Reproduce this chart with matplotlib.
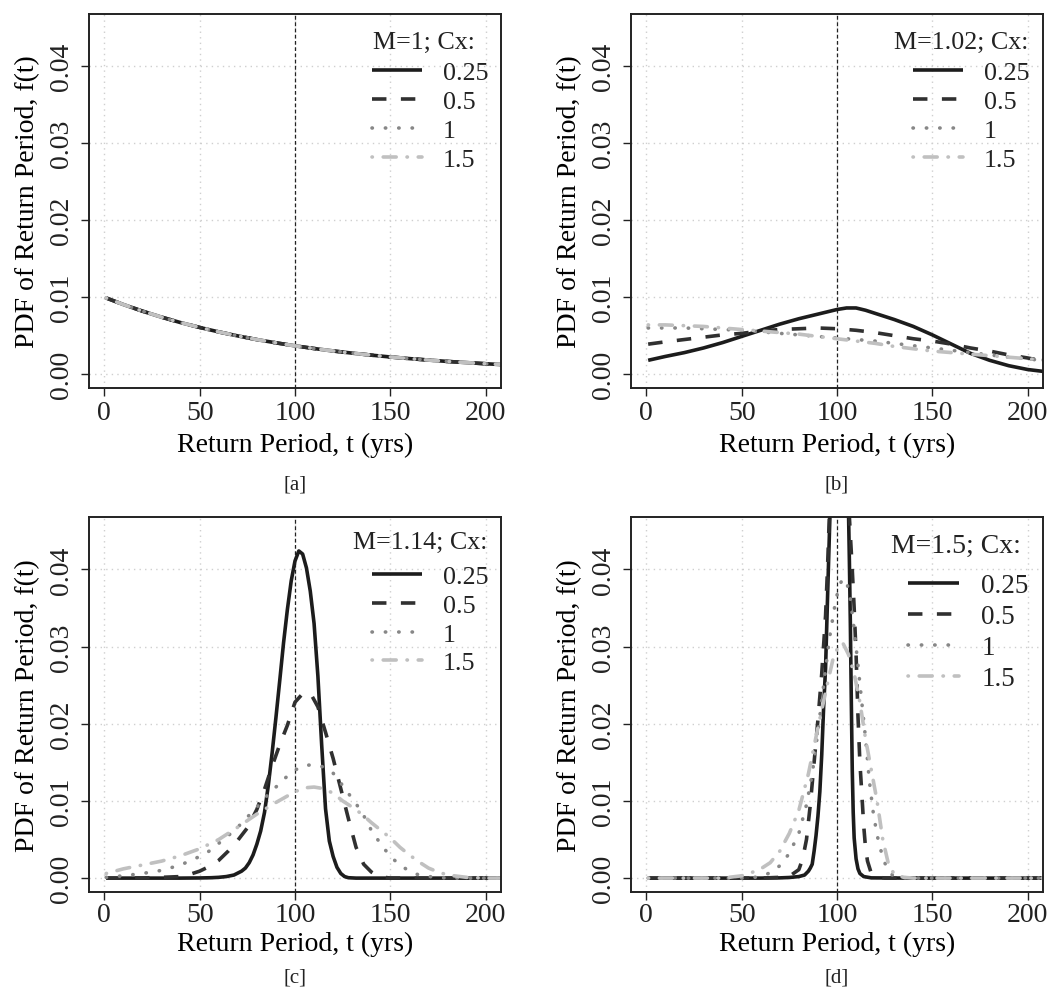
import matplotlib
matplotlib.use("Agg")
import matplotlib.pyplot as plt

plt.rcParams.update(
    {
        "font.family": ["Liberation Serif", "DejaVu Serif"],
        "font.size": 20,
        "text.color": "#222222",
        "axes.edgecolor": "#222222",
        "xtick.color": "#222222",
        "ytick.color": "#222222",
    }
)

CX_LABELS = ["0.25", "0.5", "1", "1.5"]
M_VALUES = ["1", "1.02", "1.14", "1.5"]
PANEL_TAGS = ["[a]", "[b]", "[c]", "[d]"]

# panel a: all four Cx curves coincide
A_T = [1, 10, 20, 30, 40, 50, 60, 70, 80, 90, 100, 110, 120, 130, 140, 150, 160, 170, 180, 190, 200, 210]
A_F = [0.00990, 0.00905, 0.00819, 0.00741, 0.00670, 0.00607, 0.00549, 0.00497, 0.00449, 0.00407, 0.00368,
       0.00333, 0.00301, 0.00273, 0.00247, 0.00223, 0.00202, 0.00183, 0.00165, 0.00150, 0.00135, 0.00122]

# panel b
B_T = [1, 10, 20, 30, 40, 50, 60, 70, 80, 90, 100, 110, 120, 130, 140, 150, 160, 170, 180, 190, 200, 210]
B_025_T = [1, 10, 20, 30, 40, 50, 60, 70, 80, 90, 95, 100, 105, 110, 115, 120, 130, 140, 150, 160,
           170, 180, 190, 200, 210]
B_025 = [0.0018, 0.0023, 0.0028, 0.0034, 0.0041, 0.0049, 0.0057, 0.0065, 0.0072, 0.0078, 0.0081,
         0.0084, 0.0086, 0.0086, 0.0083, 0.0079, 0.0071, 0.0062, 0.0051, 0.0039, 0.0027, 0.0018,
         0.0011, 0.0006, 0.0003]
B_05 = [0.0039, 0.0042, 0.0045, 0.0048, 0.0051, 0.0053, 0.0056, 0.0058, 0.0059, 0.0060, 0.0059,
        0.0057, 0.0054, 0.0050, 0.0046, 0.0043, 0.0039, 0.0034, 0.0030, 0.0025, 0.0021, 0.0016]
B_1 = [0.0060, 0.0060, 0.0060, 0.0059, 0.0058, 0.0057, 0.0055, 0.0053, 0.0051, 0.0049, 0.0047,
       0.0045, 0.0043, 0.0040, 0.0037, 0.0034, 0.0031, 0.0028, 0.0025, 0.0022, 0.0020, 0.0017]
B_15 = [0.0064, 0.0064, 0.0063, 0.0062, 0.0060, 0.0058, 0.0056, 0.0054, 0.0052, 0.0049, 0.0046,
        0.0043, 0.0040, 0.0036, 0.0033, 0.0030, 0.0028, 0.0026, 0.0024, 0.0022, 0.0020, 0.0018]

# panel c
C_025_T = [1, 20, 40, 50, 56, 60, 64, 68, 72, 74, 76, 78, 80, 82, 84, 86, 88, 90, 92, 94, 96, 98, 100,
           102, 104, 106, 108, 110, 112, 114, 116, 118, 120, 122, 124, 126, 128, 132, 150, 180, 210]
C_025 = [0, 0, 0, 0.00002, 0.00005, 0.0001, 0.0002, 0.0004, 0.0009, 0.0013, 0.0020, 0.0030, 0.0044,
         0.0061, 0.0085, 0.0120, 0.0162, 0.0208, 0.0256, 0.0305, 0.0348, 0.0385, 0.0411, 0.0424,
         0.0420, 0.0402, 0.0372, 0.0330, 0.0262, 0.0172, 0.0090, 0.0048, 0.0028, 0.0014, 0.0006,
         0.0002, 0.00005, 0, 0, 0, 0]
C_05_T = [1, 20, 30, 40, 45, 50, 55, 60, 65, 70, 75, 80, 84, 88, 92, 96, 100, 104, 108, 112, 116,
          120, 124, 128, 132, 136, 140, 144, 150, 180, 210]
C_05 = [0, 0.00002, 0.0001, 0.0002, 0.0005, 0.0009, 0.0015, 0.0023, 0.0035, 0.0049, 0.0065, 0.0089,
        0.0115, 0.0145, 0.0173, 0.0198, 0.0228, 0.0239, 0.0240, 0.0222, 0.0189, 0.0155, 0.0116,
        0.0077, 0.0040, 0.0018, 0.0008, 0.0002, 0, 0, 0]
C_1_T = [1, 10, 20, 30, 40, 50, 55, 60, 65, 70, 75, 80, 85, 90, 95, 100, 105, 110, 115, 120, 125,
         130, 135, 140, 145, 150, 155, 160, 165, 170, 180, 210]
C_1 = [0.0001, 0.0003, 0.0006, 0.0010, 0.0017, 0.0028, 0.0035, 0.0045, 0.0055, 0.0066, 0.0079,
       0.0092, 0.0106, 0.0118, 0.0130, 0.0140, 0.0146, 0.0147, 0.0144, 0.0136, 0.0120, 0.0103,
       0.0086, 0.0062, 0.0044, 0.0028, 0.0017, 0.0009, 0.0004, 0.0002, 0, 0]
C_15_T = [1, 10, 20, 30, 40, 50, 60, 70, 80, 90, 100, 105, 110, 115, 120, 125, 130, 135, 140, 145,
          150, 155, 160, 165, 170, 175, 180, 190, 200, 210]
C_15 = [0.0006, 0.0012, 0.0017, 0.0022, 0.0029, 0.0038, 0.0050, 0.0066, 0.0083, 0.0098, 0.0112,
        0.0117, 0.0118, 0.0116, 0.0110, 0.0100, 0.0092, 0.0083, 0.0072, 0.0062, 0.0052, 0.0040,
        0.0030, 0.0021, 0.0013, 0.0008, 0.0004, 0.0001, 0, 0]

# panel d (0.25 and 0.5 run off the top of the axes)
D_025_T = [1, 40, 60, 70, 75, 80, 83, 85, 86, 87, 88, 89, 90, 91, 92, 93, 94, 95, 96, 98, 100, 102,
           104, 105, 106, 106.5, 107, 107.5, 108, 108.5, 109, 110, 111, 112, 114, 118, 140, 170, 210]
D_025 = [0, 0, 0, 0.00003, 0.00008, 0.0002, 0.0004, 0.0009, 0.0013, 0.0018, 0.0035, 0.0055, 0.0080,
         0.0112, 0.0160, 0.0222, 0.0272, 0.0360, 0.0445, 0.0610, 0.0720, 0.0740, 0.0680, 0.0600,
         0.0480, 0.0410, 0.0330, 0.0230, 0.0140, 0.0085, 0.0052, 0.0025, 0.0012, 0.0006, 0.0002,
         0.00003, 0, 0, 0]
D_05_T = [1, 40, 60, 70, 76, 80, 82, 84, 86, 88, 90, 92, 94, 95, 96, 98, 100, 102, 104, 106, 107,
          108, 109, 110, 111, 112, 113, 114, 115, 116, 118, 120, 125, 150, 210]
D_05 = [0, 0, 0, 0.0001, 0.0004, 0.0011, 0.0025, 0.0050, 0.0095, 0.0150, 0.0205, 0.0265, 0.0340,
        0.0400, 0.0470, 0.0560, 0.0600, 0.0610, 0.0580, 0.0490, 0.0445, 0.0400, 0.0350, 0.0290,
        0.0210, 0.0150, 0.0110, 0.0068, 0.0038, 0.0022, 0.0006, 0.0002, 0, 0, 0]
D_1_T = [1, 50, 55, 60, 65, 70, 75, 80, 84, 87, 90, 93, 96, 99, 101, 103, 105, 107, 109, 111, 113,
         115, 117, 119, 121, 123, 125, 127, 129, 132, 140, 210]
D_1 = [0, 0, 0.00005, 0.0002, 0.0007, 0.0016, 0.0032, 0.0058, 0.0095, 0.0135, 0.0190, 0.0250, 0.0310,
       0.0355, 0.0378, 0.0388, 0.0385, 0.0362, 0.0322, 0.0276, 0.0228, 0.0180, 0.0125, 0.0085,
       0.0056, 0.0036, 0.0020, 0.0010, 0.0004, 0.0001, 0, 0]
D_15_T = [1, 40, 50, 55, 60, 65, 70, 75, 80, 85, 90, 95, 98, 101, 103, 106, 109, 112, 115, 118, 121,
          124, 127, 130, 135, 140, 210]
D_15 = [0, 0, 0.0003, 0.0007, 0.0012, 0.0020, 0.0035, 0.0058, 0.0088, 0.0135, 0.0195, 0.0252, 0.0285,
        0.0302, 0.0305, 0.0290, 0.0265, 0.0228, 0.0180, 0.0140, 0.0100, 0.0050, 0.0018, 0.0005,
        0.0001, 0, 0]

PANELS = [
    [(A_T, A_F), (A_T, A_F), (A_T, A_F), (A_T, A_F)],
    [(B_025_T, B_025), (B_T, B_05), (B_T, B_1), (B_T, B_15)],
    [(C_025_T, C_025), (C_05_T, C_05), (C_1_T, C_1), (C_15_T, C_15)],
    [(D_025_T, D_025), (D_05_T, D_05), (D_1_T, D_1), (D_15_T, D_15)],
]

COLORS = ["#1c1c1c", "#303030", "#878787", "#c0c0c0"]
DASHES = [None, (4.0, 4.0), (0.1, 3.6), (0.1, 3.0, 3.6, 3.0)]
LW = 2.6

RECTS = [
    (89 / 1052, 1 - 389 / 995, 412 / 1052, 374 / 995),
    (631 / 1052, 1 - 389 / 995, 412 / 1052, 374 / 995),
    (89 / 1052, 1 - 893 / 995, 412 / 1052, 375 / 995),
    (631 / 1052, 1 - 893 / 995, 412 / 1052, 375 / 995),
]
XLAB_Y = [-0.150, -0.150, -0.137, -0.137]
XTICK_PAD = [3, 3, 1, 1]
TAG_Y = [-0.257, -0.257, -0.227, -0.227]
# legend title (right edge x, centre y) and entry block (top-right anchor) in axes fraction
TITLE_XY = [(0.937, 0.925), (0.964, 0.925), (0.966, 0.933), (0.947, 0.923)]
ENTRY_XY = [(0.970, 0.875), (0.967, 0.875), (0.970, 0.873), (0.965, 0.850)]
LEG_FS = [18.7, 18.7, 18.7, 19.5]
TITLE_FS = [18.7, 18.7, 18.7, 20]

fig = plt.figure(figsize=(10.52, 9.95), dpi=100)

for i in range(4):
    ax = fig.add_axes(RECTS[i])
    ax.set_xlim(-8, 208)
    ax.set_ylim(-0.0018, 0.0468)
    ax.set_xticks([0, 50, 100, 150, 200])
    ax.set_yticks([0.0, 0.01, 0.02, 0.03, 0.04])
    ax.set_yticklabels(["0.00", "0.01", "0.02", "0.03", "0.04"])
    ax.grid(True, color="#cfcfcf", linestyle=(0, (1, 3)), linewidth=1.0)
    ax.set_axisbelow(True)
    ax.axvline(100, color="#222222", linestyle=(0, (3, 2)), linewidth=0.9, zorder=1.5)

    for k, (t, f) in enumerate(PANELS[i]):
        (ln,) = ax.plot(t, f, color=COLORS[k], linewidth=LW, label=CX_LABELS[k],
                        solid_capstyle="butt", dash_capstyle="round")
        if DASHES[k] is not None:
            ln.set_dashes(DASHES[k])
            if k == 1:
                ln.set_dash_capstyle("butt")

    for s in ax.spines.values():
        s.set_linewidth(1.4)
    ax.tick_params(length=6, width=1.0, pad=3, direction="out")
    ax.tick_params(axis="x", pad=XTICK_PAD[i])
    ax.tick_params(axis="y", pad=5)
    for lab in ax.get_yticklabels():
        lab.set_rotation(90)
        lab.set_va("center")

    ax.set_xlabel("Return Period, t (yrs)", va="center")
    ax.xaxis.set_label_coords(0.5, XLAB_Y[i])
    ax.set_ylabel("PDF of Return Period, f(t)", va="center")
    ax.yaxis.set_label_coords(-0.150, 0.5)
    ax.text(0.5, TAG_Y[i], PANEL_TAGS[i], transform=ax.transAxes, ha="center", va="center",
            fontsize=15)

    ax.text(TITLE_XY[i][0], TITLE_XY[i][1], f"M={M_VALUES[i]}; Cx:", transform=ax.transAxes,
            ha="right", va="center", fontsize=TITLE_FS[i])
    fs = LEG_FS[i]
    ax.legend(loc="upper right", bbox_to_anchor=ENTRY_XY[i], frameon=False,
              handlelength=1.9, handletextpad=0.82, labelspacing=0.22,
              borderpad=0, borderaxespad=0, fontsize=fs)

fig.savefig("out.png", dpi=100)
